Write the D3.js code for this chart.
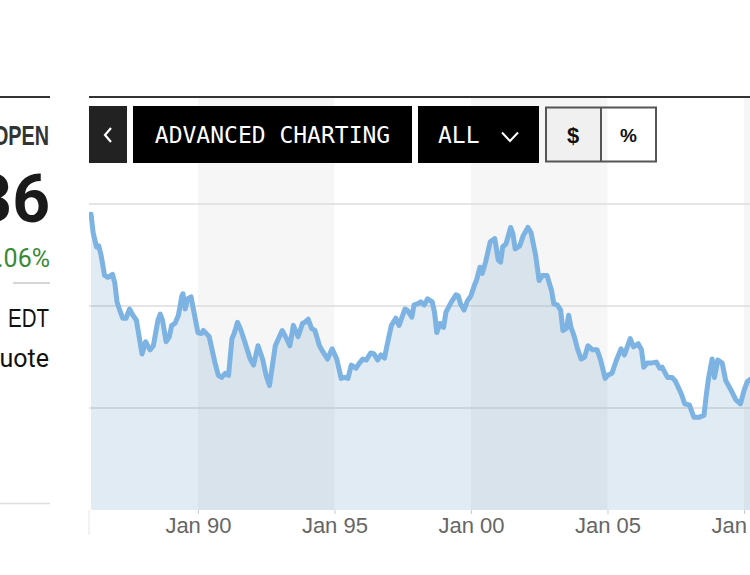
<!DOCTYPE html>
<html>
<head>
<meta charset="utf-8">
<script src="https://cdn.jsdelivr.net/npm/d3@7"></script>
<style>
  html, body { margin: 0; padding: 0; background: #fff; }
  svg { display: block; }
</style>
</head>
<body>
<svg id="chart" width="750" height="575"></svg>
<script>
// ---- data ----
const dates = [
  "1986-02-01","1986-03-01","1986-04-15","1986-05-15","1986-06-15","1986-08-01","1986-09-15","1986-11-15","1986-12-15",
  "1987-01-15","1987-02-15","1987-04-01","1987-05-15","1987-07-01","1987-08-15","1987-10-01","1987-12-15",
  "1988-02-01","1988-04-01","1988-05-15","1988-07-15","1988-08-15","1988-09-15","1988-11-01","1988-12-15",
  "1989-01-15","1989-03-01","1989-04-15","1989-06-01","1989-06-15","1989-07-15","1989-08-15","1989-10-01","1989-11-01",
  "1990-01-01","1990-02-15","1990-03-15","1990-06-01","1990-08-15","1990-10-01","1990-11-15",
  "1991-01-01","1991-02-15","1991-04-01","1991-05-01","1991-06-15","1991-08-01","1991-09-15","1991-12-01",
  "1992-01-15","1992-03-15","1992-05-15","1992-07-01","1992-08-15","1992-11-01","1992-12-01",
  "1993-02-01","1993-04-01","1993-05-15","1993-07-01","1993-09-01","1993-11-01","1993-12-01",
  "1994-01-15","1994-03-01","1994-04-15","1994-06-15","1994-08-01","1994-10-01","1994-12-01",
  "1995-02-01","1995-04-01","1995-05-15","1995-07-01","1995-08-15","1995-10-15","1995-12-01",
  "1996-01-15","1996-03-01","1996-05-01","1996-06-15","1996-08-01","1996-09-15","1996-11-01","1996-12-15",
  "1997-02-01","1997-04-01","1997-05-15","1997-08-01","1997-09-01","1997-11-01","1997-12-01",
  "1998-01-15","1998-03-01","1998-04-15","1998-06-01","1998-08-01","1998-09-01","1998-10-01","1998-11-15",
  "1999-01-01","1999-02-01","1999-04-15","1999-06-15","1999-07-15","1999-08-15","1999-10-01","1999-11-15",
  "2000-01-01","2000-02-15","2000-03-15","2000-05-01","2000-06-01","2000-07-15","2000-09-15","2000-11-15",
  "2001-01-01","2001-02-01","2001-03-01","2001-04-15","2001-06-15","2001-07-15","2001-08-15","2001-10-15","2001-12-01",
  "2002-02-01","2002-03-15","2002-05-15","2002-07-01","2002-08-15","2002-10-15","2002-12-15",
  "2003-01-15","2003-03-01","2003-04-15","2003-05-15","2003-07-01","2003-08-01","2003-09-01","2003-10-15","2003-12-01",
  "2004-01-15","2004-03-01","2004-04-15","2004-06-15","2004-08-15","2004-10-01","2004-12-01",
  "2005-01-01","2005-03-01","2005-05-01","2005-07-01","2005-08-15","2005-11-01","2005-12-15",
  "2006-02-15","2006-04-01","2006-05-01","2006-06-15","2006-08-01","2006-10-15","2006-12-01",
  "2007-01-01","2007-03-15","2007-05-15","2007-07-01","2007-09-15","2007-11-01",
  "2008-01-01","2008-03-01","2008-05-15","2008-07-15","2008-08-15","2008-09-15","2008-11-01","2008-12-01",
  "2009-01-15","2009-03-15","2009-05-01","2009-07-15","2009-09-15","2009-11-15",
  "2010-01-01","2010-02-15","2010-04-15"
];
const values = [
  29.0,27.2,25.8,25.9,25.0,23.0,22.8,23.1,22.3,
  20.4,19.7,18.8,18.8,19.7,19.1,18.6,15.3,
  16.5,15.7,16.1,18.6,19.2,18.6,16.5,17.0,
  18.1,18.3,19.1,21.0,21.2,19.7,20.7,20.9,19.7,
  17.4,17.3,17.6,17.0,14.5,13.2,13.0,
  13.4,13.2,16.8,17.3,18.4,17.6,16.6,14.8,
  14.2,16.1,14.8,13.2,12.2,16.1,16.6,
  17.6,16.8,16.1,18.1,17.0,18.3,18.4,
  18.7,17.8,17.6,16.1,15.5,14.8,15.8,
  14.8,12.9,13.0,12.9,14.2,13.9,14.4,
  14.8,14.7,15.4,15.3,14.7,15.2,14.9,16.5,
  18.1,18.8,18.1,19.7,19.6,18.9,20.1,
  20.2,20.4,20.1,20.7,20.4,19.4,17.4,18.3,
  17.9,19.4,20.4,21.1,21.0,20.2,19.6,20.5,
  21.0,22.0,22.5,23.8,23.2,24.3,26.3,26.6,
  24.5,24.3,25.8,26.1,27.7,27.1,25.6,25.9,26.9,
  27.7,27.2,25.0,22.5,23.0,23.0,21.5,
  20.2,20.1,19.6,17.6,17.8,19.1,17.9,17.0,15.7,
  14.8,15.0,16.1,15.7,15.7,14.7,12.9,
  13.2,13.4,14.7,15.8,15.2,16.8,16.0,
  16.3,15.7,14.0,14.4,14.4,14.5,13.9,
  14.0,13.0,13.0,12.6,11.4,10.4,
  10.3,9.1,9.1,9.3,11.3,13.0,14.8,13.0,
  14.7,14.4,12.7,11.7,10.8,10.4,
  11.7,12.6,12.9
];
const yGridValues = [10, 20, 30];
const xTickDates = ["1990-01-01","1995-01-01","2000-01-01","2005-01-01","2010-01-01"];
const xTickLabels = ["Jan 90","Jan 95","Jan 00","Jan 05","Jan 10"];
const bandStarts = ["1990-01-01","2000-01-01","2010-01-01"];
const bandEnds   = ["1995-01-01","2005-01-01","2015-01-01"];

// ---- layout ----
const svg = d3.select("#chart");
const W = 750, H = 575;
const plotLeft = 89, plotTop = 98, plotBottom = 510, plotRight = 750;
const parse = d3.utcParse("%Y-%m-%d");
const data = dates.map((d, i) => ({ date: parse(d), value: values[i] }));

const x = d3.scaleUtc()
  .domain([parse("1986-01-01"), parse("2010-01-01")])
  .range([88.7, 744]);
const y = d3.scaleLinear().domain([0, 30]).range([plotBottom, 204]);

svg.append("defs").append("clipPath").attr("id", "plotclip")
  .append("rect").attr("x", plotLeft).attr("y", plotTop)
  .attr("width", plotRight - plotLeft).attr("height", plotBottom - plotTop);

const plot = svg.append("g").attr("clip-path", "url(#plotclip)");

// alternating bands
plot.selectAll("rect.band").data(bandStarts.map((s, i) => [parse(s), parse(bandEnds[i])]))
  .join("rect").attr("class", "band")
  .attr("x", d => x(d[0])).attr("width", d => x(d[1]) - x(d[0]))
  .attr("y", plotTop).attr("height", plotBottom - plotTop)
  .attr("fill", "#f6f6f6");

// gridlines
plot.selectAll("line.grid").data(yGridValues).join("line").attr("class", "grid")
  .attr("x1", plotLeft).attr("x2", plotRight)
  .attr("y1", d => y(d)).attr("y2", d => y(d))
  .attr("stroke", "#dcdcdc").attr("stroke-width", 1.5);

// area + line
const area = d3.area().x(d => x(d.date)).y0(plotBottom).y1(d => y(d.value));
const line = d3.line().x(d => x(d.date)).y(d => y(d.value));
plot.append("path").datum(data).attr("d", area)
  .attr("fill", "rgba(16,101,163,0.13)");
plot.append("path").datum(data).attr("d", line)
  .attr("fill", "none").attr("stroke", "#7db3e3").attr("stroke-width", 5)
  .attr("stroke-linejoin", "round").attr("stroke-linecap", "round");

// x axis
const xAxis = d3.axisBottom(x)
  .tickValues(xTickDates.map(parse))
  .tickFormat((d, i) => xTickLabels[i])
  .tickSize(4).tickPadding(3);
const gx = svg.append("g").attr("transform", `translate(0,${plotBottom})`).call(xAxis);
gx.select(".domain").remove();
gx.selectAll(".tick line").attr("stroke", "#cccccc");
gx.selectAll(".tick text")
  .attr("fill", "#666").attr("font-size", 22)
  .attr("font-family", "'Liberation Sans', Arial, sans-serif");
svg.append("line").attr("x1", plotLeft).attr("x2", plotLeft)
  .attr("y1", plotBottom).attr("y2", 535).attr("stroke", "#e6e6e6").attr("stroke-width", 1);

// top border
svg.append("line").attr("x1", plotLeft).attr("x2", W).attr("y1", 97).attr("y2", 97)
  .attr("stroke", "#333").attr("stroke-width", 2);

// ---- buttons ----
svg.append("rect").attr("x", 89).attr("y", 106).attr("width", 38).attr("height", 57).attr("fill", "#222");
svg.append("path").attr("d", "M111,128 L105,135 L111,142").attr("fill", "none")
  .attr("stroke", "#fff").attr("stroke-width", 2.2);

svg.append("rect").attr("x", 133).attr("y", 106).attr("width", 279).attr("height", 57).attr("fill", "#000");
svg.append("text").attr("x", 272.5).attr("y", 135).attr("dy", "0.36em")
  .attr("text-anchor", "middle").attr("fill", "#fff")
  .attr("font-family", "'DejaVu Sans Mono', 'Liberation Mono', monospace").attr("font-size", 23)
  .text("ADVANCED CHARTING");

svg.append("rect").attr("x", 418).attr("y", 106).attr("width", 121).attr("height", 57).attr("fill", "#000");
svg.append("text").attr("x", 438).attr("y", 135).attr("dy", "0.36em")
  .attr("fill", "#fff")
  .attr("font-family", "'DejaVu Sans Mono', 'Liberation Mono', monospace").attr("font-size", 23)
  .text("ALL");
svg.append("path").attr("d", "M502,132.5 L510,141 L518,132.5").attr("fill", "none")
  .attr("stroke", "#fff").attr("stroke-width", 2);

svg.append("rect").attr("x", 546).attr("y", 107.5).attr("width", 55).attr("height", 54).attr("fill", "#f0f0f0");
svg.append("rect").attr("x", 546).attr("y", 107.5).attr("width", 110).attr("height", 54)
  .attr("fill", "none").attr("stroke", "#555").attr("stroke-width", 2);
svg.append("line").attr("x1", 601).attr("x2", 601).attr("y1", 107.5).attr("y2", 161.5)
  .attr("stroke", "#555").attr("stroke-width", 2);
svg.append("text").attr("x", 573).attr("y", 135).attr("dy", "0.36em").attr("text-anchor", "middle")
  .attr("font-family", "'Liberation Sans', Arial, sans-serif").attr("font-weight", "bold")
  .attr("font-size", 22).attr("fill", "#111").text("$");
svg.append("text").attr("x", 628.5).attr("y", 135).attr("dy", "0.36em").attr("text-anchor", "middle")
  .attr("font-family", "'Liberation Sans', Arial, sans-serif").attr("font-weight", "bold")
  .attr("font-size", 19).attr("fill", "#111").text("%");

// ---- left panel (cut off at the left edge, as in the reference) ----
svg.append("line").attr("x1", 0).attr("x2", 50).attr("y1", 97).attr("y2", 97)
  .attr("stroke", "#333").attr("stroke-width", 2);
svg.append("line").attr("x1", 13).attr("x2", 50).attr("y1", 283).attr("y2", 283)
  .attr("stroke", "#c8c8c8").attr("stroke-width", 1.5);
svg.append("line").attr("x1", 0).attr("x2", 50).attr("y1", 503.5).attr("y2", 503.5)
  .attr("stroke", "#dddddd").attr("stroke-width", 1.5);

const sans = "'Liberation Sans', 'Roboto', sans-serif";
svg.append("text").attr("x", -7).attr("y", 145)
  .attr("textLength", 56).attr("lengthAdjust", "spacingAndGlyphs")
  .attr("font-family", sans).attr("font-size", 28).attr("font-weight", "bold")
  .attr("fill", "#333").text("OPEN");
svg.append("text").attr("x", 50).attr("y", 222).attr("text-anchor", "end")
  .attr("font-family", "'Roboto', 'Liberation Sans', sans-serif").attr("font-size", 66).attr("font-weight", "bold")
  .attr("fill", "#1a1a1a").text("36");
svg.append("text").attr("x", 50).attr("y", 267).attr("text-anchor", "end")
  .attr("font-family", "'Roboto', 'Liberation Sans', sans-serif").attr("font-size", 25)
  .attr("fill", "#3a8a35").text("1.06%");
svg.append("text").attr("x", 8).attr("y", 327)
  .attr("textLength", 41).attr("lengthAdjust", "spacingAndGlyphs")
  .attr("font-family", sans).attr("font-size", 26)
  .attr("fill", "#111").text("EDT");
svg.append("text").attr("x", 49).attr("y", 367).attr("text-anchor", "end")
  .attr("font-family", "'Roboto', sans-serif").attr("font-size", 25)
  .attr("fill", "#111").text("uote");
</script>
</body>
</html>
